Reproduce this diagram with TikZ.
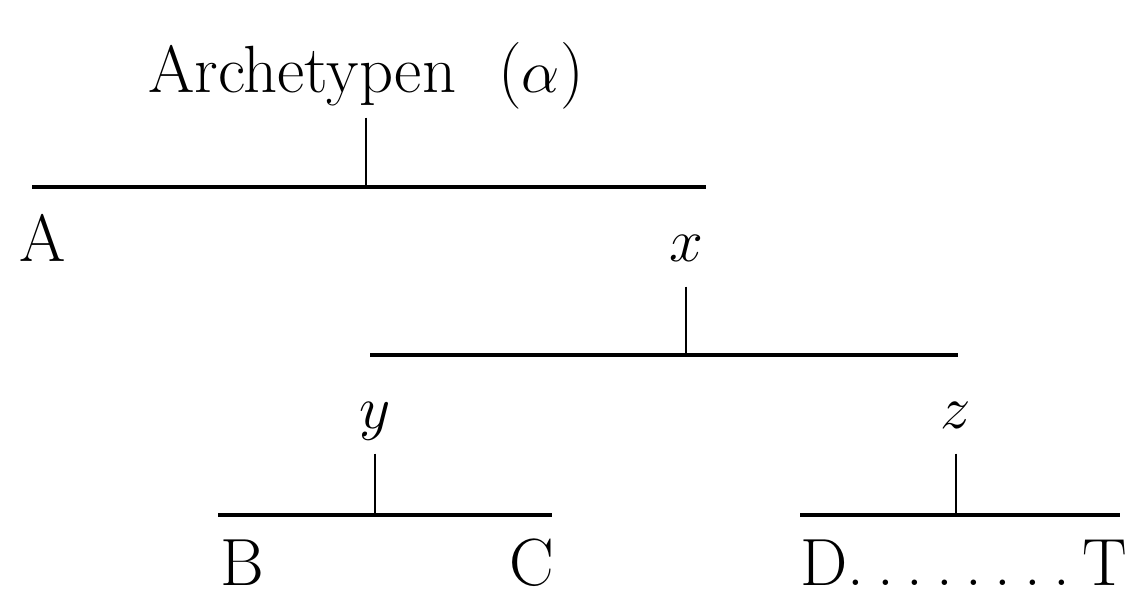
\documentclass[tikz,border=0pt]{standalone}
\usetikzlibrary{positioning}

\begin{document}
\begin{tikzpicture}[
    lbl/.style={anchor=base, inner sep=0pt, font=\fontsize{19}{23}\selectfont},
    head/.style={lbl, text depth=2.4mm},
    bar/.style={line width=1.1pt},
    tick/.style={line width=0.8pt}]
    \useasboundingbox (0,0) rectangle (11.32,6.01);

    \coordinate (L1) at (0.32,4.14);
    \coordinate (R1) at (7.06,4.14);
    \coordinate (L2) at (3.70,2.46);
    \coordinate (R2) at (9.58,2.46);
    \coordinate (L3) at (2.18,0.86);
    \coordinate (R3) at (5.52,0.86);
    \coordinate (L4) at (8.00,0.86);
    \coordinate (R4) at (11.20,0.86);

    \node[head] (arch) at (3.66,5.08) {Archetypen\hspace{0.42cm}($\alpha$)};
    \node[lbl] (A) at (0.43,3.39) {A};
    \node[head] (x) at (6.86,3.39) {$x$};
    \node[head] (y) at (3.75,1.72) {$y$};
    \node[head] (z) at (9.56,1.72) {$z$};
    \node[lbl] (B) at (2.42,0.15) {B};
    \node[lbl] (C) at (5.32,0.15) {C};
    \node[lbl, anchor=base west] (DT) at (8.00,0.15) {D.\kern.19em.\kern.19em.\kern.19em.\kern.19em.\kern.19em.\kern.19em.\kern.19em.\kern.19em T};

    \draw[bar] (L1) -- (R1);
    \draw[bar] (L2) -- (R2);
    \draw[bar] (L3) -- (R3);
    \draw[bar] (L4) -- (R4);

    \draw[tick] (arch.south) -- (arch.south |- L1);
    \draw[tick] (x.south) -- (x.south |- L2);
    \draw[tick] (y.south) -- (y.south |- L3);
    \draw[tick] (z.south) -- (z.south |- L4);
\end{tikzpicture}
\end{document}
